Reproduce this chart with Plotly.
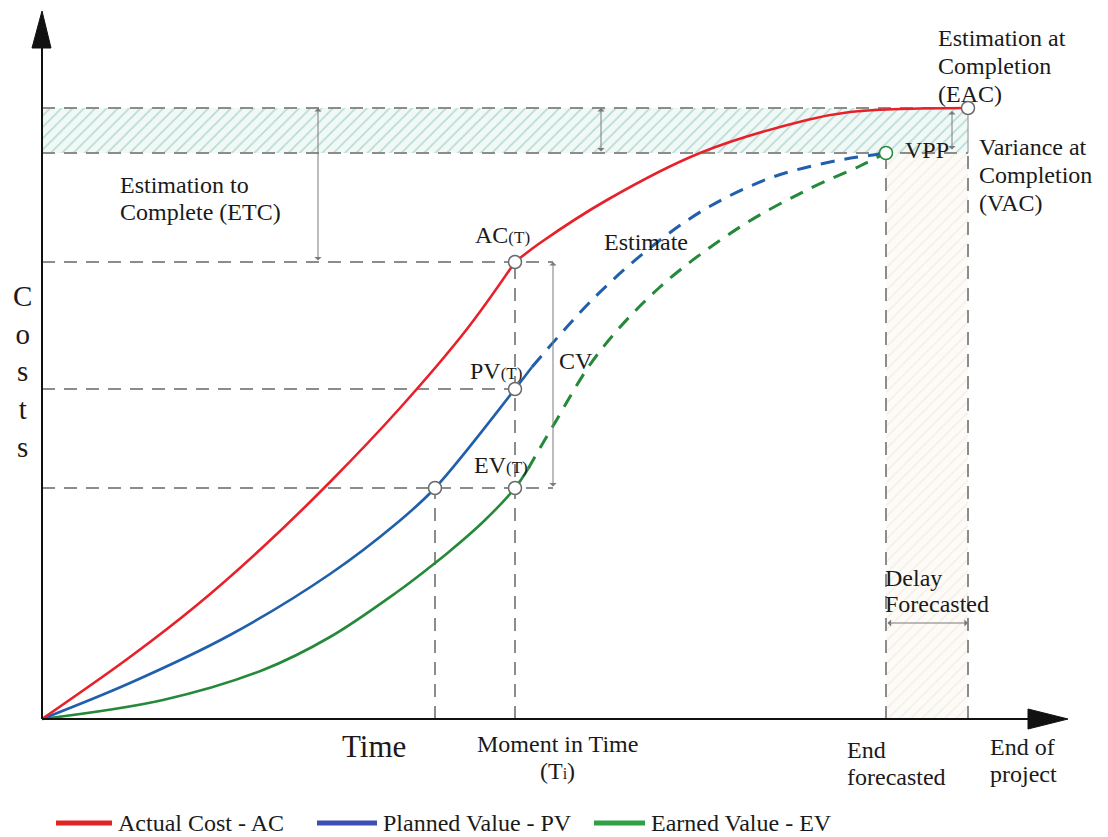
import plotly.graph_objects as go

# ---- data (time units from origin, cost units from origin) ----
ac_t1 = [0, 88, 155, 221, 288, 358, 425, 473]
ac_c1 = [0, 62, 114, 172, 237, 311, 390, 457]
ac_t2 = [473, 498, 565, 658, 765, 808, 858, 926]
ac_c2 = [457, 476, 519, 566, 599, 607, 610, 611]

pv_t = [0, 88, 188, 288, 355, 393, 473, 490]
pv_c = [0, 36, 84, 145, 196, 231, 330, 352]
pv_est_t = [490, 551, 608, 665, 731, 798, 831, 844]
pv_est_c = [352, 420, 471, 511, 542, 559, 564, 566]

ev_t = [0, 121, 221, 288, 355, 388, 408, 441, 473, 486]
ev_c = [0, 19, 49, 82, 127, 152, 168, 197, 231, 250]
ev_est_t = [486, 511, 555, 618, 698, 765, 818, 844]
ev_est_c = [250, 293, 364, 432, 492, 529, 553, 566]

T_EQ = 393        # time where PV equals EV(T)
T_NOW = 473       # moment in time Ti
T_CV = 511        # CV bracket
T_END_FC = 844    # end forecasted
T_END = 926       # end of project
C_EAC = 611
C_BAC = 566
C_AC = 457
C_PV = 330
C_EV = 231

legend_labels = ["Actual Cost - AC", "Planned Value - PV", "Earned Value - EV"]
legend_colors = ["#e02424", "#3b4fb5", "#2fa044"]

RED = "#e8202a"
BLUE = "#1f5fab"
GREEN = "#25893a"
GRAY = "#8c8c8c"
FONT = "Liberation Serif"
DASH = "13px,9px"

fig = go.Figure()

# hatched band between BAC and EAC
fig.add_trace(go.Scatter(x=[0, T_END, T_END, 0, 0], y=[C_BAC, C_BAC, C_EAC, C_EAC, C_BAC],
                         fill="toself", mode="none", fillcolor="rgba(0,0,0,0)",
                         fillpattern=dict(shape="/", fgcolor="#7dbcb2", bgcolor="#f1f9f7",
                                          size=8, solidity=0.2),
                         showlegend=False, hoverinfo="skip"))
# hatched delay area
fig.add_trace(go.Scatter(x=[T_END_FC, T_END, T_END, T_END_FC, T_END_FC], y=[0, 0, C_BAC, C_BAC, 0],
                         fill="toself", mode="none", fillcolor="rgba(0,0,0,0)",
                         fillpattern=dict(shape="/", fgcolor="#e8dccb", bgcolor="#fdfbf8",
                                          size=8, solidity=0.15),
                         showlegend=False, hoverinfo="skip"))

def gline(xs, ys, dash=DASH, width=2, color=GRAY):
    fig.add_trace(go.Scatter(x=xs, y=ys, mode="lines",
                             line=dict(color=color, width=width, dash=dash),
                             showlegend=False, hoverinfo="skip"))

# reference dashed lines
gline([0, T_END], [C_EAC, C_EAC])
gline([0, T_END], [C_BAC, C_BAC])
gline([0, T_CV], [C_AC, C_AC])
gline([0, T_NOW], [C_PV, C_PV])
gline([0, T_CV], [C_EV, C_EV])
gline([T_EQ, T_EQ], [0, C_EV])
gline([T_NOW, T_NOW], [0, C_AC])
gline([T_END_FC, T_END_FC], [0, C_BAC])
gline([T_END, T_END], [0, C_BAC])
gline([T_END, T_END], [C_BAC, C_EAC], dash="solid", width=1)

# curves
def curve(xs, ys, color, dash="solid", width=2.6):
    fig.add_trace(go.Scatter(x=xs, y=ys, mode="lines",
                             line=dict(color=color, width=width, dash=dash, shape="spline", smoothing=1.0),
                             showlegend=False, hoverinfo="skip"))

curve(ev_t, ev_c, GREEN)
curve(ev_est_t, ev_est_c, GREEN, dash="14px,10px", width=3)
curve(pv_t, pv_c, BLUE)
curve(pv_est_t, pv_est_c, BLUE, dash="14px,10px", width=3)
curve(ac_t1, ac_c1, RED)
curve(ac_t2, ac_c2, RED)

# circles
fig.add_trace(go.Scatter(x=[T_NOW, T_NOW, T_NOW, T_EQ, T_END], y=[C_AC, C_PV, C_EV, C_EV, C_EAC],
                         mode="markers",
                         marker=dict(symbol="circle", size=13, color="white",
                                     line=dict(color="#6a6a6a", width=1.5)),
                         showlegend=False, hoverinfo="skip"))
fig.add_trace(go.Scatter(x=[T_END_FC], y=[C_BAC], mode="markers",
                         marker=dict(symbol="circle", size=13, color="white",
                                     line=dict(color=GREEN, width=1.5)),
                         showlegend=False, hoverinfo="skip"))

# axes (pixel mapping: x range = px-42, y range = 719-py)
shapes = [
    dict(type="line", x0=0, y0=0, x1=0, y1=671, line=dict(color="#111", width=2)),
    dict(type="line", x0=0, y0=0, x1=988, y1=0, line=dict(color="#111", width=2)),
    dict(type="path", path="M -10,671 L 9,671 L 0,708 Z", fillcolor="#111", line=dict(color="#111", width=1)),
    dict(type="path", path="M 986,10 L 1026,0 L 986,-10 Z", fillcolor="#111", line=dict(color="#111", width=1)),
]
# legend swatches
sw = [(14, 70), (275, 335), (552, 603)]
for (a, b), col in zip(sw, legend_colors):
    shapes.append(dict(type="line", x0=a, x1=b, y0=-104, y1=-104, line=dict(color=col, width=5)))

annotations = []

def txt(x, y, s, size=24, xanchor="left"):
    annotations.append(dict(x=x, y=y, xref="x", yref="y", text=s, showarrow=False,
                            xanchor=xanchor, yanchor="middle",
                            font=dict(family=FONT, size=size, color="#1a1a1a")))

def darrow(x0, y0, x1, y1):
    annotations.append(dict(x=x1, y=y1, ax=x0, ay=y0, xref="x", yref="y", axref="x", ayref="y",
                            text="", showarrow=True, arrowhead=1, arrowside="end+start",
                            arrowsize=1.2, arrowwidth=1, arrowcolor="#7a7a7a",
                            standoff=0, startstandoff=0))

darrow(276, C_AC, 276, C_EAC)
darrow(559, C_BAC, 559, C_EAC)
darrow(910, C_BAC + 2, 910, C_EAC - 3)
darrow(T_CV, C_EV, T_CV, C_AC)
darrow(T_END_FC, 96, T_END, 96)

txt(76, 534, "Estimation to")
txt(76, 507, "Complete (ETC)")
txt(894, 681, "Estimation at")
txt(894, 653, "Completion")
txt(894, 625, "(EAC)")
txt(861, 569, "VPP")
txt(935, 572, "Variance at")
txt(935, 544, "Completion")
txt(935, 516, "(VAC)")
txt(431, 484, "AC<span style='font-size:17px'>(T)</span>")
txt(426, 348, "PV<span style='font-size:17px'>(T)</span>")
txt(430, 254, "EV<span style='font-size:17px'>(T)</span>")
txt(515, 358, "CV")
txt(560, 477, "Estimate")
txt(841, 141, "Delay")
txt(841, 115, "Forecasted")
txt(803, -31, "End")
txt(803, -58, "forecasted")
txt(946, -28, "End of")
txt(946, -55, "project")
txt(298, -27, "Time", size=31)
txt(515, -25, "Moment in Time", xanchor="center")
txt(515, -52, "(T<span style='font-size:16px'>i</span>)", xanchor="center")
txt(-20, 348, "C<br>o<br>s<br>t<br>s", size=29, xanchor="center")

for (a, b), lab in zip(sw, legend_labels):
    txt(b + 4, -104, lab)

fig.update_layout(
    width=1108, height=837,
    margin=dict(l=0, r=0, t=0, b=0),
    paper_bgcolor="white", plot_bgcolor="white",
    xaxis=dict(range=[-42, 1066], visible=False, fixedrange=True),
    yaxis=dict(range=[-118, 719], visible=False, fixedrange=True),
    shapes=shapes, annotations=annotations,
    showlegend=False,
)

fig.write_html("out.html", config={"displayModeBar": False},
               post_script="document.body.style.margin='0';document.body.style.overflow='hidden';")
